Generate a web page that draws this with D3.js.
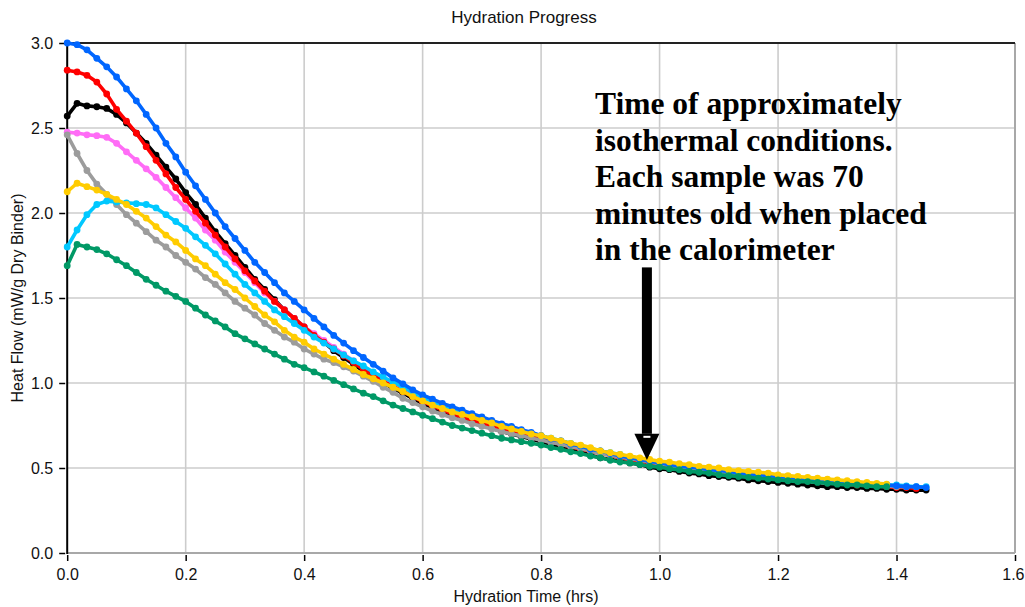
<!DOCTYPE html>
<html><head><meta charset="utf-8">
<script src="https://cdn.jsdelivr.net/npm/d3@7"></script>
<style>body{margin:0;background:#fff;} svg{display:block;}</style>
</head><body><svg id="c" width="1025" height="607"></svg>
<script>
// Sample times (minutes after start of isothermal record)
const minutes = [0,1,2,3,4,5,6,7,8,9,10,11,12,13,14,15,16,17,18,19,20,21,22,23,24,25,26,27,28,29,30,31,32,33,34,35,36,37,38,39,40,41,42,43,44,45,46,47,48,49,50,51,52,53,54,55,56,57,58,59,60,61,62,63,64,65,66,67,68,69,70,71,72,73,74,75,76,77,78,79,80,81,82,83,84,85,86,87];

const xTicks = [0,0.2,0.4,0.6,0.8,1.0,1.2,1.4,1.6];
const yTicks = [0,0.5,1.0,1.5,2.0,2.5,3.0];

const blue = [3.00,2.99,2.96,2.91,2.86,2.80,2.73,2.66,2.58,2.50,
 2.41,2.33,2.24,2.16,2.08,2.00,1.92,1.85,1.78,1.71,
 1.65,1.59,1.53,1.48,1.43,1.38,1.33,1.28,1.235,1.19,
 1.15,1.11,1.07,1.03,0.995,0.96,0.93,0.905,0.88,0.86,
 0.84,0.82,0.80,0.78,0.76,0.745,0.725,0.71,0.69,0.67,
 0.66,0.64,0.63,0.61,0.60,0.585,0.57,0.56,0.55,0.54,
 0.53,0.52,0.51,0.505,0.50,0.49,0.485,0.48,0.47,0.465,
 0.46,0.455,0.45,0.445,0.44,0.435,0.43,0.425,0.42,0.415,
 0.41,0.405,0.40,0.40,0.395,0.39,0.39,0.385];

const red = [2.84,2.83,2.81,2.77,2.70,2.61,2.54,2.47,2.39,2.31,
 2.23,2.15,2.08,2.01,1.94,1.87,1.80,1.73,1.66,1.60,
 1.54,1.48,1.43,1.38,1.33,1.28,1.24,1.20,1.16,1.12,
 1.08,1.045,1.01,0.98,0.95,0.92,0.89,0.865,0.84,0.82,
 0.80,0.78,0.76,0.745,0.73,0.715,0.70,0.685,0.67,0.655,
 0.64,0.625,0.61,0.60,0.585,0.575,0.56,0.55,0.54,0.53,
 0.52,0.51,0.505,0.495,0.49,0.48,0.475,0.47,0.46,0.455,
 0.45,0.445,0.44,0.435,0.43,0.425,0.42,0.415,0.41,0.405,
 0.40,0.40,0.395,0.39,0.385,0.385,0.38];

const black = [2.57,2.645,2.63,2.625,2.615,2.58,2.53,2.47,2.41,2.34,
 2.27,2.20,2.12,2.05,1.97,1.89,1.82,1.75,1.68,1.61,
 1.55,1.49,1.43,1.38,1.33,1.28,1.24,1.19,1.15,1.11,
 1.07,1.035,1.00,0.97,0.94,0.91,0.88,0.855,0.83,0.81,
 0.79,0.77,0.75,0.735,0.715,0.70,0.685,0.67,0.655,0.64,
 0.625,0.61,0.595,0.575,0.56,0.55,0.54,0.53,0.52,0.505,
 0.495,0.49,0.48,0.47,0.465,0.455,0.45,0.445,0.44,0.43,
 0.425,0.42,0.415,0.41,0.405,0.40,0.395,0.39,0.39,0.385,
 0.385,0.38,0.38,0.375,0.375,0.37,0.37,0.37];

const magenta = [2.475,2.47,2.46,2.455,2.445,2.41,2.36,2.31,2.26,2.21,
 2.15,2.09,2.03,1.97,1.90,1.84,1.77,1.71,1.65,1.59,
 1.53,1.48,1.43,1.38,1.33,1.29,1.25,1.21,1.17,1.13,
 1.09,1.055,1.02,0.99,0.955,0.925,0.895,0.87,0.845,0.825,
 0.80,0.785,0.765,0.75,0.73,0.715,0.70,0.69,0.675,0.66,
 0.645,0.63,0.615,0.605,0.59,0.58,0.565,0.555,0.545,0.535,
 0.525,0.515,0.51,0.50,0.495,0.485,0.48,0.47,0.465,0.46,
 0.455,0.45,0.445,0.44,0.435,0.43,0.425,0.42,0.415,0.41,
 0.405,0.40,0.40,0.395,0.39,0.39];

const gray = [2.46,2.35,2.25,2.17,2.11,2.05,1.99,1.94,1.89,1.84,
 1.80,1.75,1.71,1.67,1.62,1.58,1.53,1.48,1.44,1.40,
 1.35,1.31,1.27,1.24,1.20,1.17,1.14,1.12,1.095,1.07,
 1.04,1.01,0.975,0.945,0.91,0.885,0.86,0.835,0.815,0.795,
 0.78,0.76,0.745,0.73,0.715,0.70,0.69,0.675,0.665,0.65,
 0.64,0.625,0.615,0.60,0.585,0.575,0.565,0.555,0.545,0.535,
 0.525,0.515,0.505,0.50,0.49,0.485,0.475,0.47,0.465,0.46,
 0.455,0.45,0.445,0.44,0.435,0.43,0.425,0.42,0.415,0.41,
 0.405,0.40,0.40,0.395,0.39,0.39];

const gold = [2.125,2.175,2.155,2.135,2.11,2.08,2.05,2.01,1.97,1.92,
 1.87,1.83,1.78,1.73,1.69,1.64,1.59,1.55,1.50,1.45,
 1.40,1.36,1.31,1.27,1.24,1.20,1.17,1.14,1.11,1.08,
 1.05,1.025,1.00,0.975,0.95,0.92,0.895,0.87,0.85,0.83,
 0.815,0.80,0.78,0.765,0.745,0.73,0.715,0.70,0.69,0.675,
 0.66,0.645,0.635,0.62,0.60,0.59,0.58,0.57,0.56,0.55,
 0.54,0.535,0.525,0.52,0.51,0.505,0.50,0.49,0.485,0.48,
 0.475,0.47,0.46,0.455,0.45,0.445,0.44,0.435,0.43,0.425,
 0.42,0.415,0.41,0.405];

const cyan = [1.80,1.90,1.99,2.05,2.07,2.065,2.06,2.055,2.05,2.03,
 1.99,1.95,1.91,1.86,1.81,1.76,1.70,1.64,1.58,1.53,
 1.48,1.43,1.39,1.35,1.31,1.27,1.235,1.20,1.165,1.13,
 1.10,1.065,1.035,1.005,0.975,0.945,0.915,0.89,0.865,0.845,
 0.825,0.805,0.785,0.77,0.755,0.74,0.72,0.705,0.69,0.675,
 0.66,0.645,0.63,0.615,0.60,0.59,0.58,0.565,0.555,0.545,
 0.535,0.525,0.52,0.51,0.505,0.495,0.49,0.485,0.475,0.47,
 0.465,0.46,0.455,0.45,0.445,0.44,0.435,0.43,0.425,0.42,
 0.415,0.41,0.405,0.40,0.40,0.395,0.39,0.39];

const green = [1.69,1.815,1.80,1.785,1.76,1.725,1.69,1.65,1.61,1.575,
 1.54,1.51,1.48,1.44,1.40,1.365,1.33,1.29,1.26,1.23,
 1.20,1.17,1.14,1.11,1.09,1.065,1.04,1.015,0.99,0.965,
 0.94,0.92,0.895,0.87,0.85,0.83,0.81,0.79,0.77,0.75,
 0.735,0.72,0.705,0.69,0.675,0.665,0.655,0.645,0.635,0.62,
 0.61,0.595,0.585,0.57,0.56,0.545,0.535,0.53,0.52,0.51,
 0.505,0.495,0.49,0.48,0.475,0.47,0.46,0.455,0.45,0.445,
 0.44,0.435,0.43,0.425,0.42,0.42,0.415,0.41,0.405,0.40,
 0.40,0.395,0.39,0.39];

// drawing order (bottom to top)
const seriesList = [
  {values: black,   color: "#000000"},
  {values: magenta, color: "#ff6cf6"},
  {values: red,     color: "#ff0000"},
  {values: gray,    color: "#9c9c9c"},
  {values: cyan,    color: "#00c8ff"},
  {values: blue,    color: "#0066ff"},
  {values: gold,    color: "#ffcc00"},
  {values: green,   color: "#009966"}
];

const titleText = "Hydration Progress";
const xLabel = "Hydration Time (hrs)";
const yLabel = "Heat Flow (mW/g Dry Binder)";
const noteLines = ["Time of approximately","isothermal conditions.","Each sample was 70","minutes old when placed","in the calorimeter"];

const svg = d3.select("#c");
const L = 67.2, R = 1015, T = 43, B = 553;
const x = d3.scaleLinear().domain([0,1.6]).range([L,R]);
const y = d3.scaleLinear().domain([0,3]).range([B,T]);
const font = "'Liberation Sans', Arial, sans-serif";

// grid
svg.append("g").selectAll("line").data(xTicks.filter(d=>d>0 && d<1.6)).join("line")
  .attr("x1",d=>x(d)).attr("x2",d=>x(d)).attr("y1",T).attr("y2",B)
  .attr("stroke","#cccccc").attr("stroke-width",1.6);
svg.append("g").selectAll("line").data(yTicks.filter(d=>d>0 && d<3)).join("line")
  .attr("x1",L).attr("x2",R).attr("y1",d=>y(d)).attr("y2",d=>y(d))
  .attr("stroke","#cccccc").attr("stroke-width",1.6);

// frame
svg.append("line").attr("x1",L).attr("x2",R).attr("y1",B).attr("y2",B).attr("stroke","#a8a8a8").attr("stroke-width",2);
svg.append("line").attr("x1",R).attr("x2",R).attr("y1",T).attr("y2",B).attr("stroke","#a8a8a8").attr("stroke-width",2);
svg.append("line").attr("x1",L).attr("x2",R).attr("y1",T).attr("y2",T).attr("stroke","#222").attr("stroke-width",2);
svg.append("line").attr("x1",L).attr("x2",L).attr("y1",T).attr("y2",B+1).attr("stroke","#000").attr("stroke-width",2);

// axes
const yAxis = svg.append("g").attr("transform",`translate(${L-2},0)`)
  .call(d3.axisLeft(y).tickValues(yTicks).tickFormat(d3.format(".1f")).tickSize(6).tickPadding(6));
const xAxis = svg.append("g").attr("transform",`translate(0,${B+2})`)
  .call(d3.axisBottom(x).tickValues(xTicks).tickFormat(d3.format(".1f")).tickSize(6).tickPadding(8));
[yAxis,xAxis].forEach(g=>{
  g.select(".domain").remove();
  g.selectAll(".tick line").attr("stroke","#000").attr("stroke-width",1.5);
  g.selectAll("text").attr("font-family",font).attr("font-size",16).attr("fill","#111");
});
// keep the last x label inside the page edge
xAxis.selectAll(".tick text").filter(d=>d===1.6).attr("text-anchor","end").attr("dx",1025-R-1);

// series
const line = d3.line().x((d,i)=>x(minutes[i]/60)).y(d=>y(d));
const gS = svg.append("g");
seriesList.forEach(s=>{
  gS.append("path").datum(s.values).attr("d",line)
    .attr("fill","none").attr("stroke",s.color).attr("stroke-width",3.6).attr("stroke-linejoin","round");
  gS.append("g").selectAll("circle").data(s.values).join("circle")
    .attr("cx",(d,i)=>x(minutes[i]/60)).attr("cy",d=>y(d)).attr("r",3.4).attr("fill",s.color);
});

// titles
svg.append("text").attr("x",524).attr("y",23).attr("text-anchor","middle")
  .attr("font-family",font).attr("font-size",17).attr("fill","#111").text(titleText);
svg.append("text").attr("x",526).attr("y",602).attr("text-anchor","middle")
  .attr("font-family",font).attr("font-size",16).attr("fill","#111").text(xLabel);
svg.append("text").attr("transform","translate(23,298) rotate(-90)").attr("text-anchor","middle")
  .attr("font-family",font).attr("font-size",16).attr("fill","#111").text(yLabel);

// annotation
const note = svg.append("text").attr("font-family","'Liberation Serif','Times New Roman',serif")
  .attr("font-weight","bold").attr("font-size",31.5).attr("fill","#000");
noteLines.forEach((t,i)=>{
  note.append("tspan").attr("x",595).attr("y",114+i*36.5).text(t);
});

// arrow
const ax = x(0.9786);
svg.append("rect").attr("x",ax-5).attr("y",y(1.68)).attr("width",10).attr("height",y(0.701)-y(1.68)).attr("fill","#000");
svg.append("path").attr("d",`M${ax-12.5},${y(0.701)} L${ax+12.5},${y(0.701)} L${ax},${y(0.547)} Z`).attr("fill","#000");
svg.append("rect").attr("x",ax-3.5).attr("y",y(0.701)+2).attr("width",7).attr("height",2).attr("fill","#fff");
</script></body></html>
